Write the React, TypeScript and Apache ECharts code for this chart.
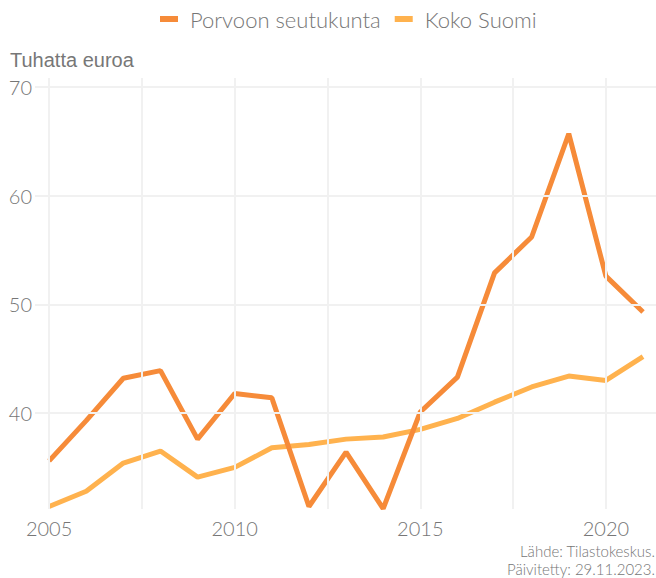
import React, { useEffect, useRef } from "react";
import * as echarts from "echarts";

const years = [2005, 2006, 2007, 2008, 2009, 2010, 2011, 2012, 2013, 2014, 2015, 2016, 2017, 2018, 2019, 2020, 2021];
const porvoo = [35.6, 39.3, 43.2, 43.9, 37.6, 41.8, 41.4, 31.4, 36.4, 31.2, 40.1, 43.3, 52.9, 56.2, 65.7, 52.6, 49.3];
const suomi = [31.4, 32.8, 35.4, 36.5, 34.1, 35.0, 36.8, 37.1, 37.6, 37.8, 38.5, 39.5, 41.0, 42.4, 43.4, 43.0, 45.2];
const yTicks = [40, 50, 60, 70];
const xGrid = [2005, 2007.5, 2010, 2012.5, 2015, 2017.5, 2020];
const xLabels = [2005, 2010, 2015, 2020];
const seriesNames = ["Porvoon seutukunta", "Koko Suomi"];
const yTitle = "Tuhatta euroa";
const captionLines = ["Lähde: Tilastokeskus.", "Päivitetty: 29.11.2023."];

const GRAY = "#767676";
const GRIDC = "#F1F1F1";
const FONT = "Lato";

export default function App() {
  const ref = useRef<HTMLDivElement>(null);
  useEffect(() => {
    if (!ref.current) return;
    const chart = echarts.init(ref.current, undefined, { renderer: "svg" });
    const gridLines: any[] = [];
    yTicks.forEach((v) =>
      gridLines.push({
        yAxis: v,
        label: { show: true, position: "start", formatter: String(v), distance: 3 },
      })
    );
    xGrid.forEach((v) =>
      gridLines.push({
        xAxis: v,
        label: {
          show: xLabels.includes(v),
          position: "start",
          formatter: String(v),
          distance: 9,
        },
      })
    );
    chart.setOption({
      animation: false,
      backgroundColor: "#ffffff",
      grid: { left: 35, right: 0, top: 78, bottom: 69, containLabel: false },
      legend: {
        data: seriesNames,
        top: 8,
        left: 160,
        padding: 0,
        icon: "rect",
        itemWidth: 18,
        itemHeight: 6,
        itemGap: 14,
        textStyle: {
          color: GRAY,
          fontFamily: FONT,
          fontSize: 22,
          fontWeight: 300,
          padding: [0, 0, 0, 7],
        },
      },
      xAxis: {
        type: "value",
        min: 2004.62,
        max: 2021.35,
        axisLine: { show: false },
        axisTick: { show: false },
        axisLabel: { show: false },
        splitLine: { show: false },
      },
      yAxis: {
        type: "value",
        min: 31.17,
        max: 70.83,
        axisLine: { show: false },
        axisTick: { show: false },
        axisLabel: { show: false },
        splitLine: { show: false },
      },
      graphic: [
        {
          type: "text",
          x: 10,
          y: 60,
          style: {
            text: yTitle,
            fill: "#777777",
            fontFamily: "'Liberation Sans', Arial, sans-serif",
            fontSize: 20,
            fontWeight: "normal",
            verticalAlign: "middle",
            align: "left",
          },
        },
        {
          type: "text",
          x: 655,
          y: 550.5,
          style: {
            text: captionLines[0],
            fill: GRAY,
            align: "right",
            verticalAlign: "middle",
            fontFamily: FONT,
            fontSize: 15,
            fontWeight: 300,
          },
        },
        {
          type: "text",
          x: 655,
          y: 568.5,
          style: {
            text: captionLines[1],
            fill: GRAY,
            align: "right",
            verticalAlign: "middle",
            fontFamily: FONT,
            fontSize: 15,
            fontWeight: 300,
          },
        },
      ],
      series: [
        {
          type: "line",
          name: "_grid",
          data: [],
          z: 1,
          silent: true,
          markLine: {
            silent: true,
            symbol: ["none", "none"],
            animation: false,
            lineStyle: { color: GRIDC, width: 2, type: "solid" },
            label: {
              color: GRAY,
              fontFamily: FONT,
              fontSize: 20,
              fontWeight: 300,
            },
            emphasis: { disabled: true },
            data: gridLines,
          },
        },
        {
          type: "line",
          name: seriesNames[0],
          data: years.map((y, i) => [y, porvoo[i]]),
          showSymbol: false,
          symbol: "none",
          z: 3,
          color: "#F68B39",
          lineStyle: { width: 5, color: "#F68B39" },
        },
        {
          type: "line",
          name: seriesNames[1],
          data: years.map((y, i) => [y, suomi[i]]),
          showSymbol: false,
          symbol: "none",
          z: 2,
          color: "#FFB24E",
          lineStyle: { width: 5, color: "#FFB24E" },
        },
      ],
    });
    return () => chart.dispose();
  }, []);
  return <div ref={ref} style={{ width: 656, height: 578, position: "absolute", left: 0, top: 0 }} />;
}
